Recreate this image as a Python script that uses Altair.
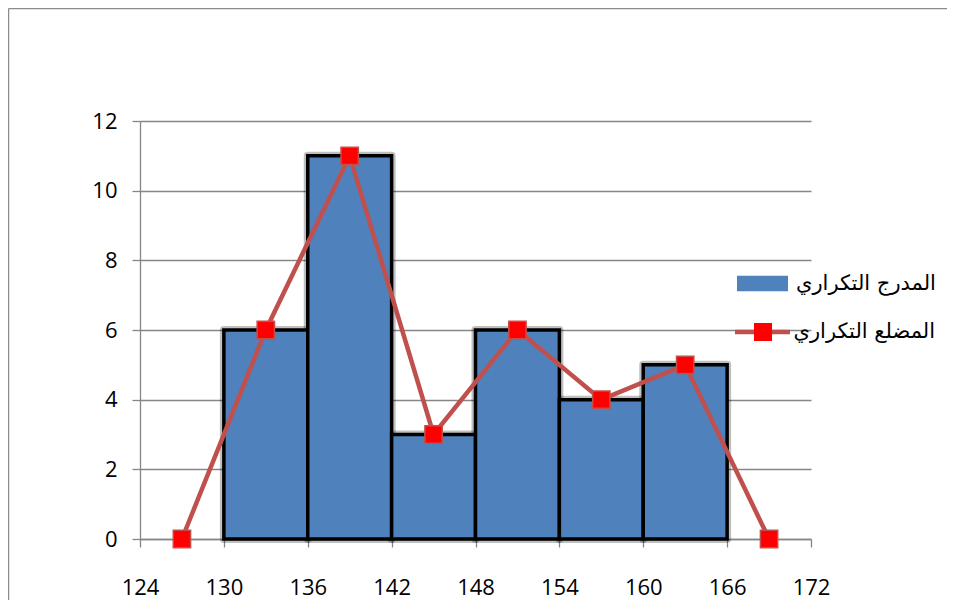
import altair as alt
import pandas as pd

# ---- data ----
bin_start = [130, 136, 142, 148, 154, 160]
bin_end = [136, 142, 148, 154, 160, 166]
counts = [6, 11, 3, 6, 4, 5]

mids = [127, 133, 139, 145, 151, 157, 163, 169]
freqs = [0, 6, 11, 3, 6, 4, 5, 0]

x_ticks = [124, 130, 136, 142, 148, 154, 160, 166, 172]
y_ticks = [0, 2, 4, 6, 8, 10, 12]

hist_name = "المدرج التكراري"
poly_name = "المضلع التكراري"

hist_df = pd.DataFrame({"start": bin_start, "end": bin_end, "count": counts,
                        "series": [hist_name] * len(counts)})
poly_df = pd.DataFrame({"mid": mids, "freq": freqs,
                        "series": [poly_name] * len(mids),
                        "mk": ["m"] * len(mids)})

W, H = 671, 418
PAD = {"left": 132, "top": 113, "right": 136, "bottom": 61}

GRAY = "#868686"
FONT = "Open Sans"

xs = alt.Scale(domain=[124, 172], nice=False, zero=False, padding=0)
ys = alt.Scale(domain=[0, 12], nice=False, padding=0)

x_axis = alt.Axis(values=x_ticks, title=None, grid=False, domainColor=GRAY,
                  domainWidth=1.3, tickColor=GRAY, tickWidth=1.3, tickSize=8,
                  labelFont=FONT, labelFontSize=22, labelColor="black",
                  labelPadding=30, labelFlush=False)
y_axis = alt.Axis(values=y_ticks, title=None, grid=True, gridColor=GRAY,
                  gridWidth=1.3, domainColor=GRAY, domainWidth=1.3,
                  tickColor=GRAY, tickWidth=1.3, tickSize=8,
                  labelFont=FONT, labelFontSize=22, labelColor="black",
                  labelPadding=15)

shadow = alt.Chart(hist_df).mark_bar(
    fill="black", stroke="black", strokeWidth=8, strokeOpacity=0.25,
    fillOpacity=0.0, strokeJoin="round"
).encode(
    x=alt.X("start:Q", scale=xs, axis=x_axis),
    x2="end:Q",
    y=alt.Y("count:Q", scale=ys, axis=y_axis),
    y2=alt.datum(0),
)

bars = alt.Chart(hist_df).mark_bar(stroke="black", strokeWidth=3.5).encode(
    x=alt.X("start:Q", scale=xs, axis=x_axis),
    x2="end:Q",
    y=alt.Y("count:Q", scale=ys, axis=y_axis),
    y2=alt.datum(0),
    fill=alt.Fill("series:N",
                  scale=alt.Scale(domain=[hist_name], range=["#4F81BD"]),
                  legend=alt.Legend(orient="none", legendX=597, legendY=137,
                                    title=None, padding=0,
                                    symbolType="M-1,-0.3H1V0.3H-1Z",
                                    symbolSize=2601, symbolStrokeWidth=0,
                                    symbolFillColor="#4F81BD",
                                    labelFont="DejaVu Sans", labelFontSize=21,
                                    labelColor="black", labelOffset=8,
                                    labelLimit=300)),
)

line = alt.Chart(poly_df).mark_line(strokeWidth=4.5).encode(
    x=alt.X("mid:Q", scale=xs),
    y=alt.Y("freq:Q", scale=ys),
    stroke=alt.Stroke("series:N",
                      scale=alt.Scale(domain=[poly_name], range=["#C0504D"]),
                      legend=alt.Legend(orient="none", legendX=592.5, legendY=181,
                                        title=None, padding=0,
                                        symbolType="stroke", symbolSize=3025,
                                        symbolStrokeWidth=4.5,
                                        labelFont="DejaVu Sans", labelFontSize=21,
                                        labelColor="black", labelOffset=1,
                                        labelLimit=300)),
)

points = alt.Chart(poly_df).mark_point(
    filled=True, fill="#FF0000", stroke="#C0504D", strokeWidth=1.5,
    size=300, opacity=1
).encode(
    x=alt.X("mid:Q", scale=xs),
    y=alt.Y("freq:Q", scale=ys),
    shape=alt.Shape("mk:N", scale=alt.Scale(domain=["m"], range=["square"]),
                    legend=alt.Legend(orient="none", legendX=613, legendY=201,
                                      title=None, padding=0, symbolSize=324,
                                      symbolFillColor="#FF0000",
                                      symbolStrokeColor="#C0504D",
                                      symbolStrokeWidth=1.5, labelExpr="''")),
)

frame_df = pd.DataFrame({"a": [0]})
frame_top = alt.Chart(frame_df).mark_rule(color="#8C8C8C", strokeWidth=1.5).encode(
    x=alt.value(-131.5), x2=alt.value(W + 136),
    y=alt.value(-112.5), y2=alt.value(-112.5))
frame_left = alt.Chart(frame_df).mark_rule(color="#8C8C8C", strokeWidth=1.5).encode(
    x=alt.value(-131.5), x2=alt.value(-131.5),
    y=alt.value(-112.5), y2=alt.value(H + 61))

chart = alt.layer(shadow, bars, line, points, frame_top, frame_left).resolve_scale(
    fill="independent"
).properties(
    width=W, height=H, padding=PAD,
    autosize=alt.AutoSizeParams(type="none"),
    background="white",
).configure_view(strokeWidth=0)

chart.save("out.html", embed_options={"renderer": "svg", "actions": False})
